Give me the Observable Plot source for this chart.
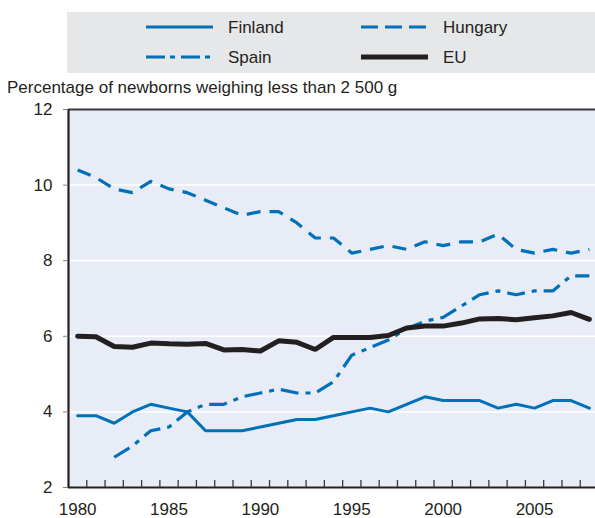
<!DOCTYPE html>
<html>
<head>
<meta charset="utf-8">
<script src="https://cdn.jsdelivr.net/npm/d3@7"></script>
<script src="https://cdn.jsdelivr.net/npm/@observablehq/plot@0.6"></script>
<style>
  body { margin: 0; background: #fff; width: 595px; height: 518px; overflow: hidden; }
  #header { position: relative; width: 595px; height: 100px; }
  #chart svg { display: block; }
  text { font-family: "Liberation Sans", Arial, sans-serif; }
</style>
</head>
<body>
<div id="header"></div>
<div id="chart"></div>
<script>
const years = [1980,1981,1982,1983,1984,1985,1986,1987,1988,1989,1990,1991,1992,1993,1994,1995,1996,1997,1998,1999,2000,2001,2002,2003,2004,2005,2006,2007,2008];
const finland = [3.9,3.9,3.7,4.0,4.2,4.1,4.0,3.5,3.5,3.5,3.6,3.7,3.8,3.8,3.9,4.0,4.1,4.0,4.2,4.4,4.3,4.3,4.3,4.1,4.2,4.1,4.3,4.3,4.1];
const hungary = [10.4,10.2,9.9,9.8,10.1,9.9,9.8,9.6,9.4,9.2,9.3,9.3,9.0,8.6,8.6,8.2,8.3,8.4,8.3,8.5,8.4,8.5,8.5,8.7,8.3,8.2,8.3,8.2,8.3];
const spainYears = [1982,1983,1984,1985,1986,1987,1988,1989,1990,1991,1992,1993,1994,1995,1996,1997,1998,1999,2000,2001,2002,2003,2004,2005,2006,2007,2008];
const spain = [2.8,3.1,3.5,3.6,4.0,4.2,4.2,4.4,4.5,4.6,4.5,4.5,4.8,5.5,5.7,5.9,6.2,6.4,6.5,6.8,7.1,7.2,7.1,7.2,7.2,7.6,7.6];
const eu = [6.0,5.99,5.73,5.71,5.82,5.8,5.79,5.81,5.64,5.65,5.61,5.88,5.84,5.65,5.97,5.97,5.97,6.02,6.22,6.27,6.27,6.35,6.46,6.47,6.44,6.49,6.54,6.63,6.45];

const yTicks = [2,4,6,8,10,12];
const gridValues = [4,6,8,10];
const xLabelYears = [1980,1985,1990,1995,2000,2005];
const yLabel = "Percentage of newborns weighing less than 2 500 g";
const seriesNames = ["Finland","Hungary","Spain","EU"];

const blue = "#0070b8";
const black = "#231f20";
const textColor = "#231f20";

const toRows = (xs, vs) => xs.map((x, i) => ({year: x, value: vs[i]}));
const finRows = toRows(years, finland);
const hunRows = toRows(years, hungary);
const spaRows = toRows(spainYears, spain);
const euRows = toRows(years, eu);
const tickBounds = years.map(y => y + 0.5);

// Header: legend + y label
const hdr = d3.select("#header").append("svg").attr("width", 595).attr("height", 100);
hdr.append("rect").attr("x", 67).attr("y", 12).attr("width", 530).attr("height", 61).attr("fill", "#e6e7e8");
const legendItems = [
  {name: seriesNames[0], x: 146, y: 27, stroke: blue, w: 3, dash: null},
  {name: seriesNames[1], x: 361, y: 27, stroke: blue, w: 3, dash: "17,7"},
  {name: seriesNames[2], x: 146, y: 57, stroke: blue, w: 3, dash: "19,5,5,6"},
  {name: seriesNames[3], x: 361, y: 57, stroke: black, w: 5, dash: null}
];
for (const it of legendItems) {
  const l = hdr.append("line").attr("x1", it.x).attr("x2", it.x + 67).attr("y1", it.y).attr("y2", it.y)
    .attr("stroke", it.stroke).attr("stroke-width", it.w);
  if (it.dash) l.attr("stroke-dasharray", it.dash);
  hdr.append("text").attr("x", it.x + 82).attr("y", it.y + 6).attr("font-size", 17).attr("fill", textColor).text(it.name);
}
hdr.append("text").attr("x", 7).attr("y", 93).attr("font-size", 17).attr("fill", textColor).text(yLabel);

const chart = Plot.plot({
  width: 595,
  height: 418,
  marginTop: 9,
  marginBottom: 31,
  marginLeft: 68,
  marginRight: 0,
  style: {fontFamily: "Liberation Sans, Arial, sans-serif", fontSize: "17px", color: textColor, background: "transparent", overflow: "visible"},
  x: {type: "linear", domain: [1979.5, 2008.5], range: [68, 598]},
  y: {type: "linear", domain: [2, 12]},
  marks: [
    Plot.frame({fill: "#e8ecf6", stroke: "none"}),
    Plot.ruleY(gridValues, {stroke: "white", strokeWidth: 1.5}),
    Plot.line(finRows, {x: "year", y: "value", stroke: blue, strokeWidth: 3, strokeLinejoin: "miter"}),
    Plot.line(hunRows, {x: "year", y: "value", stroke: blue, strokeWidth: 3.2, strokeDasharray: "14,9", strokeLinecap: "butt", strokeLinejoin: "miter"}),
    Plot.line(spaRows, {x: "year", y: "value", stroke: blue, strokeWidth: 3.2, strokeDasharray: "18,7,5,7", strokeLinecap: "butt", strokeLinejoin: "miter"}),
    Plot.line(euRows, {x: "year", y: "value", stroke: black, strokeWidth: 5, strokeLinejoin: "miter"}),
    Plot.ruleY([12], {stroke: "#3a3a3a", strokeWidth: 2}),
    Plot.ruleY([2], {stroke: black, strokeWidth: 2}),
    Plot.ruleX([1979.5], {stroke: black, strokeWidth: 2.2}),
    Plot.axisY({ticks: yTicks, tickSize: 5, tickPadding: 11, stroke: "#808080", label: null, tickFormat: d => String(d)}),
    Plot.axisX({ticks: xLabelYears, tickSize: 0, tickPadding: 15, label: null, tickFormat: d => String(d)}),
    Plot.axisX({ticks: tickBounds.slice(0, -1), tickSize: -7, stroke: "#3a3a3a", strokeWidth: 1.3, label: null, tickFormat: () => ""})
  ]
});
document.getElementById("chart").appendChild(chart);
</script>
</body>
</html>
